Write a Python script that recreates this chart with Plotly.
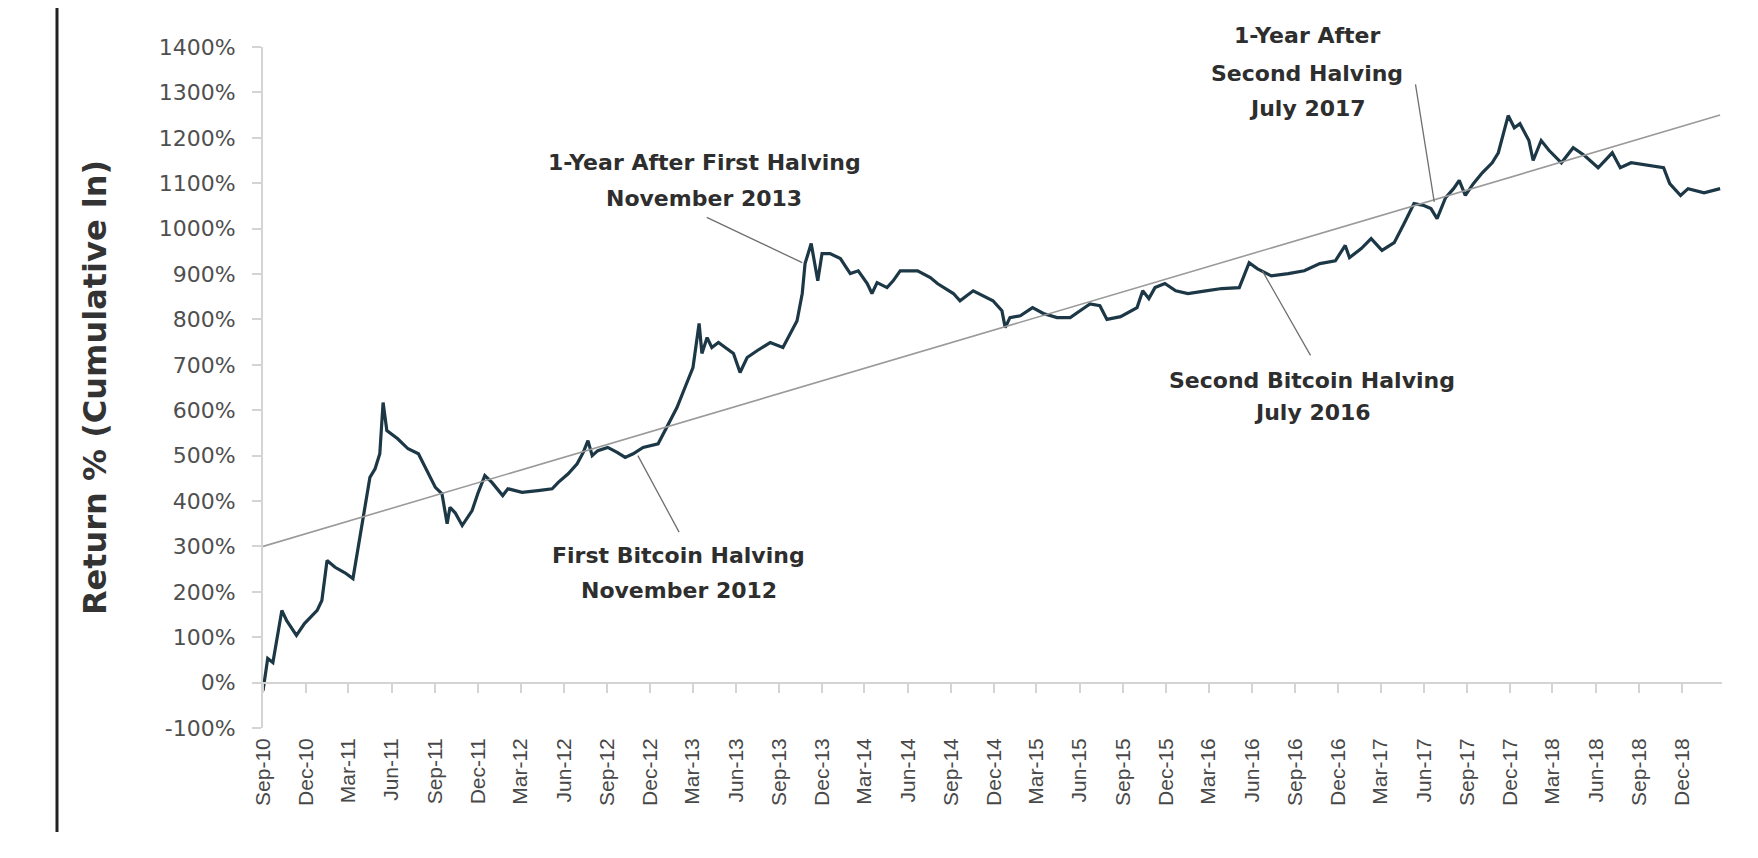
import plotly.graph_objects as go

# ---------------- data ----------------
btc_dates = [
    "2010-09-01", "2010-09-11", "2010-09-22", "2010-09-30", "2010-10-11", "2010-10-21",
    "2010-11-11", "2010-11-28", "2010-12-25", "2011-01-04", "2011-01-15", "2011-02-01",
    "2011-02-22", "2011-03-11", "2011-03-22", "2011-04-06", "2011-04-16", "2011-04-27",
    "2011-05-07", "2011-05-14", "2011-05-22", "2011-06-14", "2011-07-06", "2011-07-28",
    "2011-08-11", "2011-09-02", "2011-09-16", "2011-09-27", "2011-10-03", "2011-10-14",
    "2011-10-29", "2011-11-19", "2011-12-01", "2011-12-16", "2011-12-31", "2012-01-23",
    "2012-02-03", "2012-03-04", "2012-04-07", "2012-05-07", "2012-05-20", "2012-06-10",
    "2012-06-29", "2012-07-12", "2012-07-22", "2012-07-31", "2012-08-12", "2012-09-02",
    "2012-09-22", "2012-10-09", "2012-10-26", "2012-11-16", "2012-12-18", "2013-01-08",
    "2013-01-27", "2013-02-13", "2013-03-02", "2013-03-15", "2013-03-21", "2013-04-01",
    "2013-04-11", "2013-04-25", "2013-05-14", "2013-05-27", "2013-06-10", "2013-06-25",
    "2013-07-16", "2013-08-13", "2013-09-09", "2013-09-24", "2013-10-09", "2013-10-20",
    "2013-10-26", "2013-11-08", "2013-11-16", "2013-11-22", "2013-12-01", "2013-12-18",
    "2014-01-09", "2014-01-30", "2014-02-16", "2014-03-07", "2014-03-17", "2014-03-28",
    "2014-04-18", "2014-05-01", "2014-05-16", "2014-06-22", "2014-07-19", "2014-08-03",
    "2014-09-06", "2014-09-20", "2014-10-18", "2014-11-08", "2014-11-29", "2014-12-18",
    "2014-12-25", "2015-01-04", "2015-01-26", "2015-02-21", "2015-03-16", "2015-04-14",
    "2015-05-12", "2015-06-02", "2015-06-23", "2015-07-14", "2015-07-29", "2015-08-27",
    "2015-10-01", "2015-10-13", "2015-10-26", "2015-11-08", "2015-11-29", "2015-12-22",
    "2016-01-17", "2016-02-24", "2016-03-29", "2016-05-05", "2016-05-26", "2016-06-12",
    "2016-07-12", "2016-08-17", "2016-09-20", "2016-10-23", "2016-11-25", "2016-12-16",
    "2016-12-25", "2017-01-19", "2017-02-09", "2017-03-04", "2017-03-30", "2017-04-20",
    "2017-05-11", "2017-06-01", "2017-06-16", "2017-06-29", "2017-07-17", "2017-08-03",
    "2017-08-15", "2017-08-28", "2017-09-14", "2017-10-03", "2017-10-24", "2017-11-06",
    "2017-11-19", "2017-11-27", "2017-12-10", "2017-12-22", "2018-01-10", "2018-01-19",
    "2018-02-05", "2018-02-22", "2018-03-20", "2018-04-14", "2018-05-08", "2018-06-06",
    "2018-07-06", "2018-07-23", "2018-08-15", "2018-09-19", "2018-10-23", "2018-11-05",
    "2018-11-28", "2018-12-14", "2019-01-17", "2019-02-20",
]
btc_return = [
    -18, 53, 44, 92, 159, 137,
    104, 130, 159, 181, 269, 254,
    242, 229, 297, 394, 452, 471,
    504, 617, 555, 537, 515, 504,
    474, 430, 416, 350, 386, 374,
    346, 379, 416, 456, 441, 412,
    427, 419, 423, 427, 441, 460,
    482, 507, 533, 500, 511, 518,
    507, 496, 504, 518, 526, 570,
    606, 650, 694, 791, 725, 760,
    738, 749, 736, 725, 683, 716,
    731, 749, 738, 769, 797, 857,
    923, 967, 914, 885, 945, 945,
    934, 901, 907, 879, 857, 881,
    870, 885, 907, 907, 892, 879,
    857, 841, 863, 852, 841, 819,
    782, 804, 808, 826, 813, 804,
    804, 819, 834, 830, 800, 806,
    826, 863, 846, 870, 879, 863,
    857, 863, 868, 870, 925, 912,
    896, 901, 907, 923, 929, 963,
    936, 956, 978, 952, 969, 1011,
    1055, 1051, 1044, 1022, 1068, 1088,
    1106, 1073, 1099, 1123, 1145, 1167,
    1222, 1249, 1222, 1231, 1194, 1150,
    1194, 1172, 1145, 1178, 1161, 1134,
    1167, 1134, 1145, 1139, 1134, 1099,
    1073, 1088, 1079, 1088,
]

trend_dates = ["2010-09-01", "2019-02-20"]
trend_values = [300, 1250]

tick_dates = [
    "2010-09-01", "2010-12-01", "2011-03-01", "2011-06-01", "2011-09-01", "2011-12-01",
    "2012-03-01", "2012-06-01", "2012-09-01", "2012-12-01", "2013-03-01", "2013-06-01",
    "2013-09-01", "2013-12-01", "2014-03-01", "2014-06-01", "2014-09-01", "2014-12-01",
    "2015-03-01", "2015-06-01", "2015-09-01", "2015-12-01", "2016-03-01", "2016-06-01",
    "2016-09-01", "2016-12-01", "2017-03-01", "2017-06-01", "2017-09-01", "2017-12-01",
    "2018-03-01", "2018-06-01", "2018-09-01", "2018-12-01",
]
tick_labels = [
    "Sep-10", "Dec-10", "Mar-11", "Jun-11", "Sep-11", "Dec-11",
    "Mar-12", "Jun-12", "Sep-12", "Dec-12", "Mar-13", "Jun-13",
    "Sep-13", "Dec-13", "Mar-14", "Jun-14", "Sep-14", "Dec-14",
    "Mar-15", "Jun-15", "Sep-15", "Dec-15", "Mar-16", "Jun-16",
    "Sep-16", "Dec-16", "Mar-17", "Jun-17", "Sep-17", "Dec-17",
    "Mar-18", "Jun-18", "Sep-18", "Dec-18",
]

y_tick_values = [-100, 0, 100, 200, 300, 400, 500, 600, 700, 800, 900, 1000, 1100, 1200, 1300, 1400]
y_tick_labels = ["-100%", "0%", "100%", "200%", "300%", "400%", "500%", "600%", "700%",
                 "800%", "900%", "1000%", "1100%", "1200%", "1300%", "1400%"]

x_range = ["2010-09-01", "2019-02-24"]
y_range = [-100, 1400]

# event callouts: leader-line target points
event_dates = ["2013-10-20", "2012-11-05", "2016-06-23", "2017-06-23"]
event_values = [925, 500, 907, 1059]

# ---------------- figure ----------------
LINE_C = "#1c3745"
AX_C = "#d4d4d4"
TXT_C = "#2e2e2e"
BOLD = "DejaVu Sans"

fig = go.Figure()

fig.add_trace(go.Scatter(
    x=trend_dates, y=trend_values, mode="lines", xaxis="x2",
    line=dict(color="#9a9a9a", width=1.6), hoverinfo="skip", showlegend=False,
))
fig.add_trace(go.Scatter(
    x=btc_dates, y=btc_return, mode="lines",
    line=dict(color=LINE_C, width=3.2), showlegend=False,
))

# page body has an 8px margin, so the figure is 8px smaller and margins shifted
fig.update_layout(
    width=1750, height=850,
    margin=dict(l=255, r=36, t=39, b=130),
    paper_bgcolor="white", plot_bgcolor="white",
    showlegend=False,
    xaxis=dict(
        type="date", range=x_range, tickmode="array",
        tickvals=tick_dates, ticktext=tick_labels, tickangle=-90,
        ticks="", showline=False, showgrid=False, zeroline=False,
        tickfont=dict(family="Liberation Sans, Arial", size=21, color="#484848"),
        ticklabelstandoff=5, automargin=False,
    ),
    xaxis2=dict(
        type="date", range=x_range, overlaying="x", anchor="free",
        position=(0 - y_range[0]) / (y_range[1] - y_range[0]),
        tickmode="array", tickvals=tick_dates, showticklabels=False,
        ticks="outside", ticklen=9, tickwidth=2, tickcolor=AX_C,
        showline=True, linecolor=AX_C, linewidth=2,
        showgrid=False, zeroline=False,
    ),
    yaxis=dict(
        range=y_range, tickmode="array", tickvals=y_tick_values, ticktext=y_tick_labels,
        ticks="outside", ticklen=9, tickwidth=2, tickcolor=AX_C,
        showline=True, linecolor=AX_C, linewidth=2,
        showgrid=False, zeroline=False,
        tickfont=dict(family="DejaVu Sans", size=22, color="#4f4f4f"),
        ticklabelstandoff=12, automargin=False,
        title=dict(text="<b>Return % (Cumulative ln)</b>", standoff=42,
                   font=dict(family=BOLD, size=32, color="#333333")),
    ),
)

# frame line at the far left of the picture
fig.add_shape(type="line", xref="paper", yref="paper",
              x0=-0.1412, x1=-0.1412, y0=-0.1527, y1=1.07,
              line=dict(color="#222222", width=3))

# leader lines
leader_offsets = [(-97, -46), (42, 78), (49, 86), (-19, -119)]
for d, v, (ax, ay) in zip(event_dates, event_values, leader_offsets):
    fig.add_annotation(x=d, y=v, xref="x", yref="y", text="", showarrow=True,
                       arrowhead=0, arrowwidth=1.3, arrowcolor="#6f6f6f",
                       ax=ax, ay=ay, axref="pixel", ayref="pixel")

# callout texts (each line separately for the wider line spacing)
callout_lines = [
    ("1-Year After First Halving", 0.3023, 0.8297),
    ("November 2013", 0.3023, 0.7768),
    ("First Bitcoin Halving", 0.2851, 0.2526),
    ("November 2012", 0.2851, 0.2026),
    ("Second Bitcoin Halving", 0.7190, 0.5110),
    ("July 2016", 0.7190, 0.4626),
    ("1-Year After", 0.7156, 1.0162),
    ("Second Halving", 0.7156, 0.9618),
    ("July 2017", 0.7156, 0.9090),
]
for txt, xp, yp in callout_lines:
    fig.add_annotation(x=xp, y=yp, xref="paper", yref="paper", text="<b>" + txt + "</b>",
                       showarrow=False, xanchor="center", yanchor="middle",
                       font=dict(family=BOLD, size=22, color=TXT_C))

fig.write_html("out.html")
